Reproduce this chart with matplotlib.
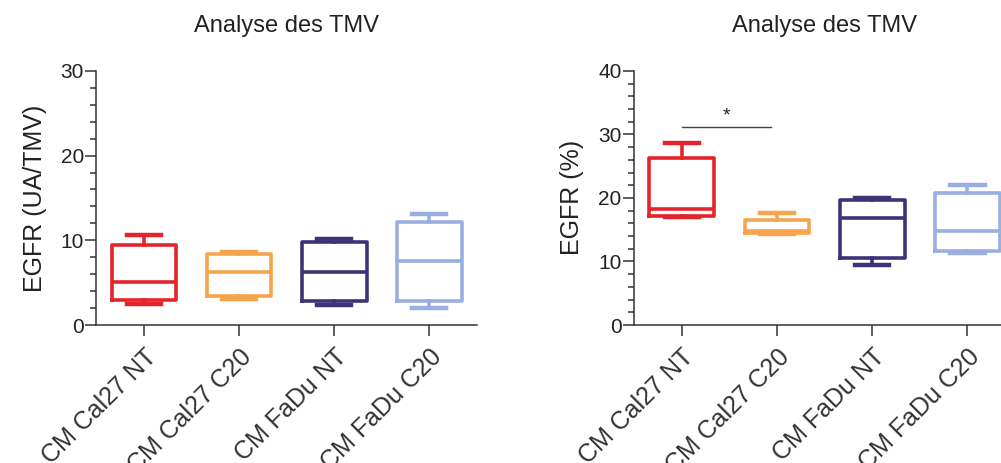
import matplotlib
matplotlib.use("Agg")
import matplotlib.pyplot as plt
from matplotlib.ticker import MultipleLocator

plt.rcParams["font.family"] = ["Liberation Sans", "DejaVu Sans"]

groupes = ["CM Cal27 NT", "CM Cal27 C20", "CM FaDu NT", "CM FaDu C20"]
couleurs = ["#E3242B", "#F6A54E", "#3D3477", "#9AAFE0"]

# TMV (UA/TMV): min, q1, mediane, q3, max
tmv_min = [2.5, 3.1, 2.4, 2.0]
tmv_q1 = [2.9, 3.4, 2.8, 2.8]
tmv_med = [5.1, 6.3, 6.3, 7.5]
tmv_q3 = [9.4, 8.4, 9.8, 12.2]
tmv_max = [10.6, 8.6, 10.2, 13.1]

# EGFR (%)
pct_min = [17.0, 14.3, 9.4, 11.3]
pct_q1 = [17.2, 14.5, 10.6, 11.7]
pct_med = [18.3, 14.8, 16.8, 14.8]
pct_q3 = [26.3, 16.6, 19.7, 20.7]
pct_max = [28.7, 17.6, 20.0, 22.1]


def stats(mins, q1, med, q3, maxs):
    return [dict(whislo=a, q1=b, med=c, q3=d, whishi=e, fliers=[])
            for a, b, c, d, e in zip(mins, q1, med, q3, maxs)]


def tracer(ax, st, ymax, ylabel):
    for i, (s, c) in enumerate(zip(st, couleurs)):
        lw = 2.6
        ax.bxp([s], positions=[i], widths=0.68, capwidths=0.36, showfliers=False,
               boxprops=dict(color=c, linewidth=lw),
               medianprops=dict(color=c, linewidth=lw),
               whiskerprops=dict(color=c, linewidth=lw),
               capprops=dict(color=c, linewidth=lw + 0.6),
               manage_ticks=False)
    ax.set_xlim(-0.5, 3.5)
    ax.set_ylim(0, ymax)
    ax.set_xticks(range(len(groupes)))
    ax.set_xticklabels(groupes, rotation=45, ha="right", rotation_mode="anchor",
                       fontsize=18, color="#222222")
    ax.yaxis.set_major_locator(MultipleLocator(10))
    ax.yaxis.set_minor_locator(MultipleLocator(2))
    ax.tick_params(axis="y", which="major", length=8, width=1.1, labelsize=15,
                   colors="#333333", labelcolor="#222222", pad=1)
    ax.tick_params(axis="y", which="minor", length=4, width=1.1, colors="#333333")
    ax.tick_params(axis="x", length=8, width=1.1, colors="#333333", pad=6)
    for s in ["top", "right"]:
        ax.spines[s].set_visible(False)
    for s in ["left", "bottom"]:
        ax.spines[s].set_linewidth(1.1)
        ax.spines[s].set_color("#333333")
    ax.set_ylabel(ylabel, fontsize=18, color="#222222", labelpad=10)
    ax.set_title("Analyse des TMV", fontsize=17, color="#222222", pad=28)


fig = plt.figure(figsize=(10.01, 4.63), dpi=100)
ax1 = fig.add_axes([0.0964, 0.298, 0.380, 0.549])
ax2 = fig.add_axes([0.6334, 0.298, 0.3806, 0.549])

tracer(ax1, stats(tmv_min, tmv_q1, tmv_med, tmv_q3, tmv_max), 30, "EGFR (UA/TMV)")
tracer(ax2, stats(pct_min, pct_q1, pct_med, pct_q3, pct_max), 40, "EGFR (%)")

# significativite
ax2.plot([0, 0.94], [31.1, 31.1], color="#444444", lw=1)
ax2.text(0.47, 31.6, "*", ha="center", va="bottom", fontsize=14, color="#222222")

fig.savefig("out.png", dpi=100)
